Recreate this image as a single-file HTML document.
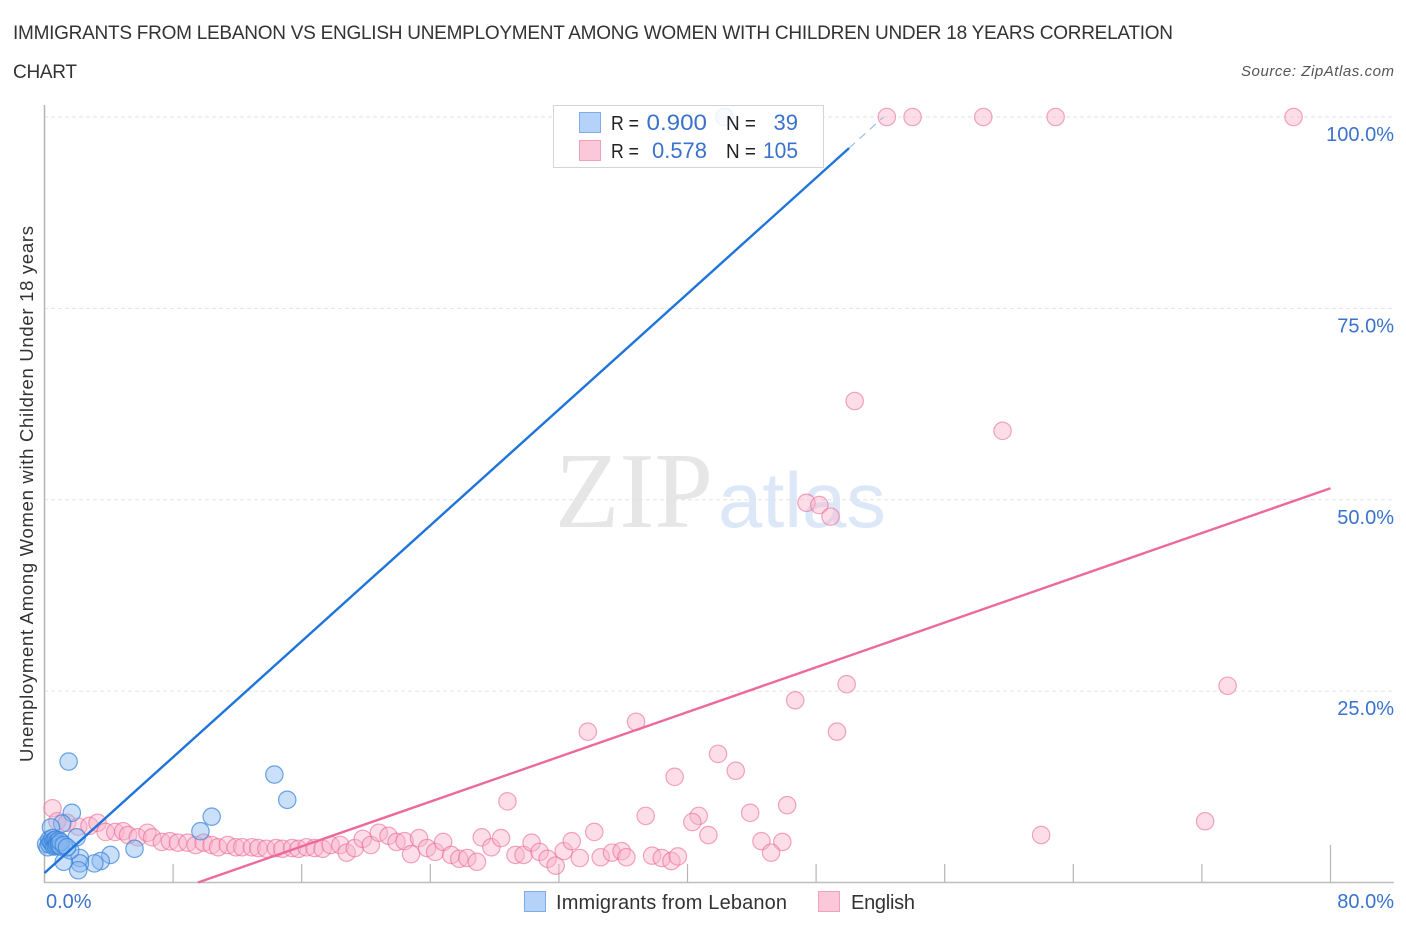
<!DOCTYPE html>
<html lang="en">
<head>
<meta charset="utf-8">
<title>Immigrants from Lebanon vs English Correlation Chart</title>
<style>
html,body{margin:0;padding:0;background:#fff;width:1406px;height:930px;overflow:hidden}
svg{display:block;font-family:"Liberation Sans",sans-serif}
</style>
</head>
<body>
<svg id="chart" width="1406" height="930" viewBox="0 0 1406 930" xmlns="http://www.w3.org/2000/svg">
  <text x="13" y="39" font-size="19" fill="#333" textLength="1160" lengthAdjust="spacing">IMMIGRANTS FROM LEBANON VS ENGLISH UNEMPLOYMENT AMONG WOMEN WITH CHILDREN UNDER 18 YEARS CORRELATION</text>
  <text x="13" y="78" font-size="19" fill="#333" textLength="64" lengthAdjust="spacing">CHART</text>
  <text x="1241" y="76" font-size="15" font-style="italic" fill="#555" textLength="153" lengthAdjust="spacing">Source: ZipAtlas.com</text>
  <g id="watermark">
    <text x="555" y="527" font-family="'Liberation Serif',serif" font-size="108" fill="#e6e6e6" textLength="158" lengthAdjust="spacingAndGlyphs">ZIP</text>
    <text x="718" y="527" font-size="78" fill="#dce8f8" textLength="168" lengthAdjust="spacingAndGlyphs">atlas</text>
  </g>
  <g id="grid"></g>
  <g id="axes"></g>
  <g id="points-english"></g>
  <g id="points-lebanon"></g>
  <g id="trends"></g>
  <g>
    <rect x="553.5" y="105.5" width="270" height="62" fill="#fff" fill-opacity="0.86" stroke="#d4d4d4"/>
    <rect x="579.5" y="112.5" width="21" height="20" fill="#b5d2f8" stroke="#7fabe6"/>
    <rect x="579.5" y="140.5" width="21" height="20" fill="#fbc8da" stroke="#f2a0bd"/>
    <g font-size="20">
      <text x="611" y="130" fill="#222" textLength="28" lengthAdjust="spacingAndGlyphs">R =</text>
      <text x="646.5" y="130" fill="#3a72cc" font-size="22" textLength="60.5" lengthAdjust="spacingAndGlyphs">0.900</text>
      <text x="726" y="130" fill="#222" textLength="30" lengthAdjust="spacingAndGlyphs">N =</text>
      <text x="798" y="130" fill="#3a72cc" text-anchor="end" font-size="22">39</text>
      <text x="611" y="158" fill="#222" textLength="28" lengthAdjust="spacingAndGlyphs">R =</text>
      <text x="652" y="158" fill="#3a72cc" font-size="22" textLength="55" lengthAdjust="spacingAndGlyphs">0.578</text>
      <text x="726" y="158" fill="#222" textLength="30" lengthAdjust="spacingAndGlyphs">N =</text>
      <text x="763" y="158" fill="#3a72cc" font-size="22" textLength="35" lengthAdjust="spacingAndGlyphs">105</text>
    </g>
  </g>
  <text transform="translate(33,494) rotate(-90)" font-size="18.5" fill="#333" text-anchor="middle" textLength="536" lengthAdjust="spacing">Unemployment Among Women with Children Under 18 years</text>
  <g>
    <rect x="524.5" y="891.5" width="21" height="20" fill="#b5d2f8" stroke="#7fabe6"/>
    <text x="556" y="909" font-size="20" fill="#333" textLength="231" lengthAdjust="spacing">Immigrants from Lebanon</text>
    <rect x="818.5" y="891.5" width="21" height="20" fill="#fbc8da" stroke="#f2a0bd"/>
    <text x="851" y="909" font-size="20" fill="#333" textLength="64" lengthAdjust="spacing">English</text>
  </g>
</svg>
<script>
var lebanonX = [42.3,1.5,14.3,15.1,10.4,9.7,1.7,5.6,4.1,3.5,3.1,2.2,2.2,2.1,1.2,1.6,2.0,1.1,0.4,0.1,0.2,0.3,0.3,0.4,0.5,0.5,0.6,0.6,0.7,0.7,0.7,0.8,0.8,0.9,0.9,1.0,1.0,1.2,1.4];
var lebanonY = [100,15.8,14.1,10.8,8.6,6.7,9.1,4.4,3.6,2.8,2.5,3.2,2.5,1.6,2.7,4.2,5.9,7.7,7.2,5.0,4.6,5.6,5.0,5.3,5.8,5.1,4.7,5.5,5.2,4.8,5.6,5.3,4.9,5.5,5.0,4.7,5.3,4.9,4.6];
var englishX = [52.4,54.0,58.4,62.9,77.7,50.4,59.6,47.4,48.2,48.9,73.6,49.9,46.7,49.3,33.8,36.8,41.9,43.0,39.2,28.8,46.2,43.9,37.4,40.7,40.3,72.2,62.0,41.3,34.2,44.6,45.9,45.2,0.5,0.8,1.4,2.1,2.8,3.3,3.8,4.4,4.9,5.2,5.8,6.4,6.7,7.3,7.8,8.3,8.9,9.4,9.9,10.4,10.8,11.4,11.9,12.3,12.9,13.3,13.8,14.4,14.8,15.4,15.8,16.3,16.8,17.3,17.8,18.4,18.8,19.3,19.8,20.3,20.8,21.4,21.9,22.4,22.8,23.3,23.8,24.3,24.8,25.3,25.8,26.3,26.9,27.2,27.8,28.4,29.3,29.8,30.3,30.8,31.3,31.8,32.3,32.8,33.3,34.6,35.3,35.9,36.2,37.8,38.4,39.0,39.4];
var englishY = [100,100,100,100,100,62.9,59.0,49.6,49.3,47.8,25.7,25.9,23.8,19.7,19.7,21.0,16.8,14.6,13.8,10.6,10.1,9.1,8.7,8.7,7.9,8.0,6.2,6.2,6.6,5.4,5.3,3.9,9.7,8.0,7.8,7.3,7.4,7.8,6.6,6.6,6.7,6.2,5.9,6.5,5.9,5.3,5.4,5.2,5.2,4.9,5.2,4.9,4.6,4.9,4.6,4.6,4.6,4.5,4.4,4.5,4.4,4.5,4.4,4.6,4.5,4.4,4.9,4.9,3.9,4.5,5.7,4.9,6.5,6.1,5.3,5.4,3.7,5.8,4.5,4.0,5.3,3.6,3.1,3.2,2.7,5.9,4.6,5.8,3.6,3.6,5.2,4.0,3.1,2.2,4.1,5.4,3.2,3.3,3.9,4.1,3.3,3.5,3.2,2.8,3.4];
var xTickValues = [8,16,24,32,40,48,56,64,72,80];
var yTickValues = [25,50,75,100];
var yTickLabels = ["25.0%","50.0%","75.0%","100.0%"];
var lebanonTrendSlope = 1.892;
var lebanonTrendIntercept = 1.24;
var lebanonTrendSolidEnd = 50.05;
var lebanonTrendDashEnd = 52.2;
var englishTrendSlope = 0.731;
var englishTrendIntercept = -6.98;
var englishTrendStart = 9.55;
var englishTrendEnd = 80;

var NS = 'http://www.w3.org/2000/svg';
function sx(v){ return 44.5 + v * 16.075; }
function sy(v){ return 882.5 - v * 7.655; }
function make(tag, attrs, parent){
  var el = document.createElementNS(NS, tag);
  for (var k in attrs) el.setAttribute(k, attrs[k]);
  parent.appendChild(el);
  return el;
}
var grid = document.getElementById('grid');
var axes = document.getElementById('axes');
yTickValues.forEach(function(v, i){
  var g = make('line', {x1:44, x2:1394, y1:sy(v), y2:sy(v), stroke:'#e2e2e2', 'stroke-width':1, 'stroke-dasharray':'4 3'}, grid);
  
  
  var t = make('text', {x:1394, y:sy(v)+24, 'text-anchor':'end', 'font-size':20, fill:'#3a72cc'}, axes);
  
  
  t.textContent = yTickLabels[i];
});
var yAxis = make('line', {x1:44.5, x2:44.5, y1:105, y2:883, stroke:'#b5b5b5', 'stroke-width':1.5}, axes);


var xAxis = make('line', {x1:44, x2:1394, y1:882.5, y2:882.5, stroke:'#bdbdbd', 'stroke-width':1.5}, axes);


xTickValues.forEach(function(v){
  var tick = make('line', {x1:sx(v), x2:sx(v), y1:v === 80 ? 845 : 864, y2:882, stroke:'#b5b5b5', 'stroke-width':1.2}, axes);
  
  
});
var xMin = make('text', {x:46, y:908, 'font-size':20, fill:'#3a72cc'}, axes);


xMin.textContent = '0.0%';
var xMax = make('text', {x:1394, y:908, 'text-anchor':'end', 'font-size':20, fill:'#3a72cc'}, axes);


xMax.textContent = '80.0%';

var eg = document.getElementById('points-english');
englishX.forEach(function(x, i){
  var c = make('circle', {cx:sx(x), cy:sy(englishY[i]), r:8.7, fill:'#f8b4cc', 'fill-opacity':0.45, stroke:'#ea5f90', 'stroke-opacity':0.55, 'stroke-width':1.2}, eg);
  
  
});
var lg = document.getElementById('points-lebanon');
lebanonX.forEach(function(x, i){
  var c = make('circle', {cx:sx(x), cy:sy(lebanonY[i]), r:8.7, fill:'#8ab8f0', 'fill-opacity':0.45, stroke:'#3580da', 'stroke-opacity':0.7, 'stroke-width':1.2}, lg);
  
  
});

var tr = document.getElementById('trends');
function lebY(x){ return lebanonTrendSlope * x + lebanonTrendIntercept; }
function engY(x){ return englishTrendSlope * x + englishTrendIntercept; }
var l1 = make('line', {x1:sx(0), y1:sy(lebY(0)), x2:sx(lebanonTrendSolidEnd), y2:sy(lebY(lebanonTrendSolidEnd)), stroke:'#1f74dc', 'stroke-width':2.4}, tr);


var l2 = make('line', {x1:sx(lebanonTrendSolidEnd), y1:sy(lebY(lebanonTrendSolidEnd)), x2:sx(lebanonTrendDashEnd), y2:sy(lebY(lebanonTrendDashEnd)), stroke:'#8fb4e6', 'stroke-width':1, 'stroke-dasharray':'8 6'}, tr);


var l3 = make('line', {x1:sx(englishTrendStart), y1:sy(engY(englishTrendStart)), x2:sx(englishTrendEnd), y2:sy(engY(englishTrendEnd)), stroke:'#ec6a9b', 'stroke-width':2.4}, tr);


</script>
</body>
</html>
